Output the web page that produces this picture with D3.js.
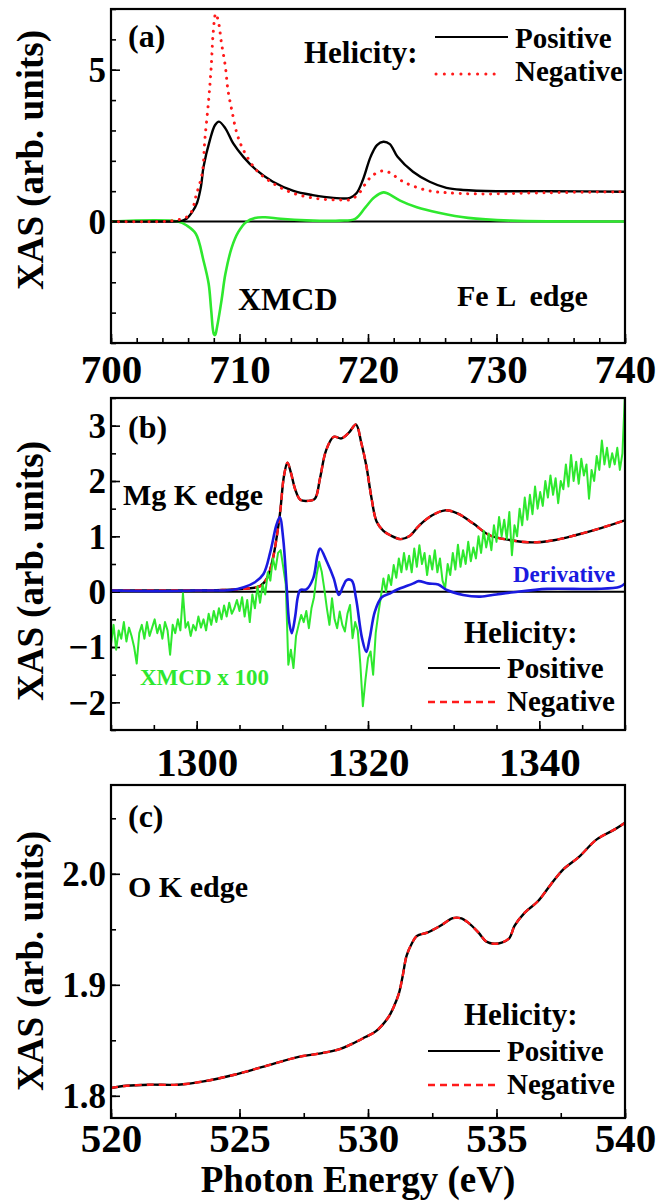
<!DOCTYPE html>
<html lang="en">
<head>
<meta charset="UTF-8">
<script src="https://cdn.jsdelivr.net/npm/d3@7"></script>
<title>XAS / XMCD</title>
<style>
  body { margin: 0; background: #fff; }
</style>
</head>
<body>
<svg width="669" height="1201"></svg>
<script>
// ---------- data ----------
// (a) Fe L edge  [energy eV, XAS]
const fePositive = [[700,0],[704,0],[705.5,0.02],[705.9,0.1],[706.3,0.3],[706.7,0.62],[707.0,1.15],[707.2,1.8],[707.7,2.69],[708.1,3.18],[708.4,3.29],[708.9,3.07],[709.5,2.58],[710.3,2.13],[711.3,1.70],[712.6,1.31],[714.2,1.01],[715.7,0.87],[717.3,0.78],[718.6,0.78],[719.1,0.93],[719.6,1.37],[720.2,2.13],[720.7,2.52],[721.2,2.63],[721.7,2.55],[722.3,2.13],[723.5,1.64],[724.8,1.31],[726.1,1.11],[727.4,1.04],[730,1.0],[734,1.0],[740,0.98]];
const feNegative = [[700,0],[704,0],[705.1,0.05],[705.9,0.15],[706.3,0.35],[706.6,0.82],[707.1,1.59],[707.3,2.68],[707.6,4.0],[707.8,5.1],[707.95,6.2],[708.15,6.85],[708.35,6.6],[708.6,5.87],[708.9,5.1],[709.1,4.33],[709.4,3.67],[709.8,2.9],[710.3,2.36],[711.3,1.7],[712.6,1.26],[714.2,0.93],[716,0.76],[717.8,0.71],[718.7,0.73],[719.4,0.98],[719.9,1.31],[720.4,1.53],[721.1,1.67],[721.7,1.61],[722.5,1.37],[723.5,1.17],[724.8,1.01],[726.1,0.95],[728.7,0.91],[733.9,0.95],[740,0.98]];
const feXmcd = [[700,0],[705.2,0],[705.9,-0.13],[706.6,-0.4],[707.2,-1.29],[707.6,-2.05],[707.8,-2.93],[708.0,-3.7],[708.1,-3.74],[708.25,-3.48],[708.6,-2.6],[708.9,-1.73],[709.4,-0.85],[709.9,-0.35],[710.5,-0.02],[711.2,0.12],[712.0,0.14],[713.2,0.09],[715.2,0.04],[717.8,0.03],[719.0,0.09],[719.8,0.47],[720.5,0.8],[721.2,0.96],[721.5,0.93],[722.5,0.69],[723.8,0.47],[725.5,0.29],[727.8,0.12],[731.1,0.03],[740,0]];

// (b) Mg K edge
const mgXas = [[1290,0.02],[1303,0.03],[1305.5,0.05],[1307.4,0.1],[1308.2,0.24],[1308.9,0.6],[1309.7,1.38],[1310.2,2.1],[1310.6,2.33],[1311.0,2.15],[1311.5,1.85],[1312.1,1.66],[1313.0,1.64],[1313.8,1.68],[1314.4,2.05],[1315.1,2.55],[1316.0,2.80],[1316.9,2.77],[1317.8,2.88],[1318.6,3.02],[1319.2,2.7],[1319.8,2.28],[1320.4,1.7],[1321.0,1.27],[1321.8,1.1],[1322.6,1.02],[1323.8,0.95],[1324.8,1.0],[1326.0,1.2],[1327.5,1.38],[1329.0,1.47],[1330.5,1.41],[1332.3,1.23],[1334.2,1.02],[1336.7,0.93],[1339.2,0.89],[1341.7,0.93],[1344.2,1.02],[1347.2,1.15],[1350,1.29]];
const mgDerivative = [[1290,0.02],[1295,0.01],[1300,0.02],[1304,0.03],[1305.5,0.08],[1306.8,0.17],[1307.8,0.32],[1308.6,0.72],[1309.3,1.2],[1309.7,1.35],[1310.1,0.96],[1310.5,0.1],[1310.8,-0.55],[1311.1,-0.75],[1311.5,-0.45],[1311.8,-0.1],[1312.1,0.03],[1312.8,0.04],[1313.6,0.24],[1314.1,0.65],[1314.4,0.78],[1315.2,0.54],[1316.0,0.24],[1316.6,-0.06],[1317.1,0.1],[1317.5,0.21],[1318.1,0.2],[1318.6,-0.12],[1319.3,-0.84],[1319.8,-1.09],[1320.2,-0.84],[1320.8,-0.36],[1321.6,-0.1],[1322.6,-0.03],[1323.3,0.03],[1325.3,0.15],[1325.9,0.19],[1327,0.15],[1328.2,0.13],[1329.2,0.03],[1331.1,-0.06],[1333.1,-0.09],[1335,-0.05],[1337,-0.01],[1340.9,0.05],[1346.7,0.05],[1349.4,0.09],[1350,0.15]];
// XMCD x 100, sampled every 0.3 eV from 1290 eV
const mgXmcdStart = 1290, mgXmcdStep = 0.3;
const mgXmcd = [-0.95,-0.6,-1.05,-0.7,-0.85,-0.55,-0.9,-0.65,-0.8,-1.0,-1.3,-0.75,-0.6,-0.85,-0.55,-0.8,-0.65,
  -0.5,-0.75,-0.6,-0.85,-0.55,-0.7,-1.14,-0.6,-0.75,-0.5,-0.7,-0.03,-0.65,-0.55,-0.8,-0.6,-0.7,
  -0.45,-0.65,-0.5,-0.7,-0.4,-0.6,-0.35,-0.55,-0.3,-0.5,-0.25,-0.45,-0.2,-0.4,-0.3,-0.15,
  -0.35,-0.1,-0.45,-0.15,-0.55,-0.05,-0.3,0.1,-0.2,0.13,-0.05,0.35,0.2,0.6,0.4,0.7,0.75,
  0.45,0.13,-1.32,-1.05,-1.38,-0.8,-0.6,-0.42,-0.55,-0.35,-0.66,-0.3,-0.1,0.3,0.54,0.36,0.05,-0.3,-0.6,-0.12,-0.5,-0.66,-0.36,-0.6,-0.72,-0.4,-0.24,-0.84,-0.55,-0.7,-1.3,-2.07,-1.6,
  -1.2,-1.08,-1.5,-0.75,-0.4,-0.1,0.24,0.0,0.3,0.12,0.48,0.25,0.6,0.35,0.7,0.4,0.65,0.35,0.78,0.45,
  0.84,0.5,0.7,0.3,0.65,0.4,0.75,0.35,0.6,0.2,0.06,0.5,0.3,0.7,0.4,0.85,0.45,0.75,0.5,0.9,
  0.55,0.8,0.6,1.0,0.7,1.1,0.8,1.05,0.75,1.2,0.9,1.35,1.0,1.3,0.95,1.44,0.66,1.2,1.0,1.5,
  1.2,1.7,1.3,1.75,1.4,1.9,1.5,1.8,1.55,2.0,1.7,2.1,1.75,2.05,1.6,2.0,1.85,2.3,1.9,2.47,
  2.0,2.35,1.95,2.4,2.1,2.3,1.68,2.2,2.0,2.45,2.2,2.73,2.3,2.6,2.25,2.5,2.3,2.6,2.2,2.5,3.6];

// (c) O K edge
const oXas = [[520,1.807],[520.6,1.809],[521.5,1.810],[522.6,1.810],[523.6,1.813],[524.8,1.819],[525.9,1.826],[527.3,1.835],[528.1,1.838],[528.9,1.842],[529.4,1.847],[529.9,1.853],[530.3,1.858],[530.8,1.871],[531.0,1.880],[531.2,1.892],[531.35,1.908],[531.5,1.926],[531.7,1.937],[531.9,1.944],[532.3,1.947],[532.8,1.953],[533.3,1.960],[533.6,1.960],[533.9,1.956],[534.3,1.947],[534.6,1.939],[534.9,1.937],[535.2,1.938],[535.5,1.942],[535.7,1.953],[536.1,1.965],[536.6,1.975],[537.1,1.990],[537.6,2.004],[538.2,2.015],[538.9,2.031],[539.6,2.040],[540,2.046]];

// ticks
const aXMajor = [700,710,720,730,740], aYMajor = [0,5];
const bXMajor = [1300,1320,1340],      bYMajor = [-2,-1,0,1,2,3];
const cXMajor = [520,525,530,535,540], cYMajor = [1.8,1.9,2.0];

// ---------- layout ----------
const FONT = "'Liberation Serif'";
const svg = d3.select('svg');
const left = 111, right = 625;
const green = '#2ee82e', red = '#ff1a1a', blue = '#1a1ae0';

function panel(cfg) {
  const x = d3.scaleLinear().domain(cfg.xDomain).range([left, right]);
  const y = d3.scaleLinear().domain(cfg.yDomain).range([cfg.bottom, cfg.top]);
  const g = svg.append('g');

  const clipId = 'clip-' + cfg.name;
  svg.append('clipPath').attr('id', clipId)
    .append('rect').attr('x', left).attr('y', cfg.top)
    .attr('width', right - left).attr('height', cfg.bottom - cfg.top);

  // minor + major ticks, pointing inwards
  const axisStyle = sel => {
    sel.select('.domain').remove();
    sel.selectAll('line').attr('stroke-width', 1.6);
  };
  g.append('g').attr('transform', `translate(0,${cfg.bottom})`)
    .call(d3.axisBottom(x).tickValues(cfg.xMinor).tickSize(-5).tickFormat(''))
    .call(axisStyle);
  g.append('g').attr('transform', `translate(0,${cfg.bottom})`)
    .call(d3.axisBottom(x).tickValues(cfg.xMajor).tickSize(-9).tickFormat(cfg.xFormat))
    .call(axisStyle)
    .call(s => s.selectAll('text').attr('y', cfg.xLabelOffset).attr('dy', 0)
      .style('font-size', '41px').attr('fill', '#000'));
  g.append('g').attr('transform', `translate(${left},0)`)
    .call(d3.axisLeft(y).tickValues(cfg.yMinor).tickSize(-5).tickFormat(''))
    .call(axisStyle);
  g.append('g').attr('transform', `translate(${left},0)`)
    .call(d3.axisLeft(y).tickValues(cfg.yMajor).tickSize(-9).tickFormat(cfg.yFormat))
    .call(axisStyle)
    .call(s => s.selectAll('text').attr('x', -5).attr('dy', '0.34em')
      .style('font-size', '35px').attr('fill', '#000'));

  const plot = g.append('g').attr('clip-path', `url(#${clipId})`);

  g.append('rect').attr('x', left).attr('y', cfg.top)
    .attr('width', right - left).attr('height', cfg.bottom - cfg.top)
    .attr('fill', 'none').attr('stroke', '#000').attr('stroke-width', 2.2);

  g.append('text').attr('transform', `translate(43,${cfg.titleY}) rotate(-90)`)
    .attr('text-anchor', 'middle').style('font-size', '37px')
    .text('XAS (arb. units)');

  return { x, y, g, plot };
}

function curve(p, data, opts) {
  const line = d3.line().x(d => p.x(d[0])).y(d => p.y(d[1]))
    .curve(opts.curve || d3.curveCatmullRom.alpha(0.5));
  return p.plot.append('path').attr('d', line(data))
    .attr('fill', 'none').attr('stroke', opts.color)
    .attr('stroke-width', opts.width || 2)
    .attr('stroke-dasharray', opts.dash || null)
    .attr('stroke-linecap', opts.cap || 'butt')
    .attr('stroke-linejoin', 'round');
}

function label(p, x, y, txt, size, color) {
  return p.g.append('text').attr('x', x).attr('y', y)
    .style('font-size', size + 'px').attr('fill', color || '#000')
    .style('white-space', 'pre').text(txt);
}

function legend(p, y1, y2, helicityY, x0) {
  label(p, x0 + 36, helicityY, 'Helicity:', 31);
  p.g.append('line').attr('x1', x0).attr('x2', x0 + 72).attr('y1', y1).attr('y2', y1)
    .attr('stroke', '#000').attr('stroke-width', 2.2);
  p.g.append('line').attr('x1', x0).attr('x2', x0 + 72).attr('y1', y2).attr('y2', y2)
    .attr('stroke', red).attr('stroke-width', 2.6).attr('stroke-dasharray', '7 5');
  label(p, x0 + 79, y1 + 10, 'Positive', 29);
  label(p, x0 + 79, y2 + 9, 'Negative', 29);
}

// ---------- (a) ----------
const pa = panel({
  name: 'a', top: 9, bottom: 343, xDomain: [700, 740], yDomain: [-4, 7],
  xMajor: aXMajor, xMinor: d3.range(700, 741, 2), yMajor: aYMajor, yMinor: d3.range(-4, 8, 1),
  xFormat: d3.format('d'), yFormat: d3.format('d'), xLabelOffset: 40, titleY: 160
});
pa.plot.append('line').attr('x1', left).attr('x2', right)
  .attr('y1', pa.y(0)).attr('y2', pa.y(0)).attr('stroke', '#000').attr('stroke-width', 2);
curve(pa, feXmcd, { color: green, width: 2.6 });
curve(pa, fePositive, { color: '#000', width: 2.4 });
curve(pa, feNegative, { color: red, width: 3, dash: '0.1 7.5', cap: 'round' });
label(pa, 128, 47, '(a)', 32);
label(pa, 304, 63, 'Helicity:', 31);
pa.g.append('line').attr('x1', 435).attr('x2', 508).attr('y1', 37).attr('y2', 37)
  .attr('stroke', '#000').attr('stroke-width', 2.2);
pa.g.append('line').attr('x1', 436).attr('x2', 502).attr('y1', 74).attr('y2', 74)
  .attr('stroke', red).attr('stroke-width', 3).attr('stroke-dasharray', '0.1 8.2')
  .attr('stroke-linecap', 'round');
label(pa, 515, 48, 'Positive', 29);
label(pa, 515, 81, 'Negative', 29);
label(pa, 238, 310, 'XMCD', 32);
label(pa, 457, 306, 'Fe L  edge', 30);

// ---------- (b) ----------
const pb = panel({
  name: 'b', top: 398, bottom: 730, xDomain: [1290, 1350], yDomain: [-2.5, 3.5],
  xMajor: bXMajor, xMinor: d3.range(1290, 1351, 5), yMajor: bYMajor, yMinor: d3.range(-2.5, 3.51, 0.5),
  xFormat: d3.format('d'), yFormat: d3.format('d'), xLabelOffset: 46, titleY: 571
});
pb.plot.append('line').attr('x1', left).attr('x2', right)
  .attr('y1', pb.y(0)).attr('y2', pb.y(0)).attr('stroke', '#000').attr('stroke-width', 2);
curve(pb, mgXas, { color: '#000', width: 2.4 });
curve(pb, mgXas, { color: red, width: 2.4, dash: '7 5' });
curve(pb, mgXmcd.map((v, i) => [mgXmcdStart + i * mgXmcdStep, v]),
  { color: green, width: 2, curve: d3.curveLinear });
curve(pb, mgDerivative, { color: blue, width: 2.6 });
label(pb, 128, 438, '(b)', 32);
label(pb, 123, 505, 'Mg K edge', 30);
label(pb, 513, 582, 'Derivative', 23, blue);
label(pb, 140, 685, 'XMCD x 100', 23, green);
legend(pb, 668, 702, 643, 428);

// ---------- (c) ----------
const pc = panel({
  name: 'c', top: 785, bottom: 1118, xDomain: [520, 540], yDomain: [1.78, 2.08],
  xMajor: cXMajor, xMinor: d3.range(520, 540.1, 2.5), yMajor: cYMajor, yMinor: d3.range(1.8, 2.081, 0.05),
  xFormat: d3.format('d'), yFormat: d3.format('.1f'), xLabelOffset: 34, titleY: 961
});
curve(pc, oXas, { color: '#000', width: 2.4 });
curve(pc, oXas, { color: red, width: 2.4, dash: '7 5' });
label(pc, 128, 827, '(c)', 32);
label(pc, 128, 897, 'O K edge', 30);
legend(pc, 1051, 1085, 1025, 428);

svg.append('text').attr('x', 358).attr('y', 1192).attr('text-anchor', 'middle')
  .style('font-size', '37px').text('Photon Energy (eV)');

// serif bold everywhere (axis groups default to sans-serif)
svg.selectAll('g').attr('font-family', null).attr('font-size', null);
svg.selectAll('text').style('font-family', FONT).style('font-weight', 'bold');
</script>
</body>
</html>
